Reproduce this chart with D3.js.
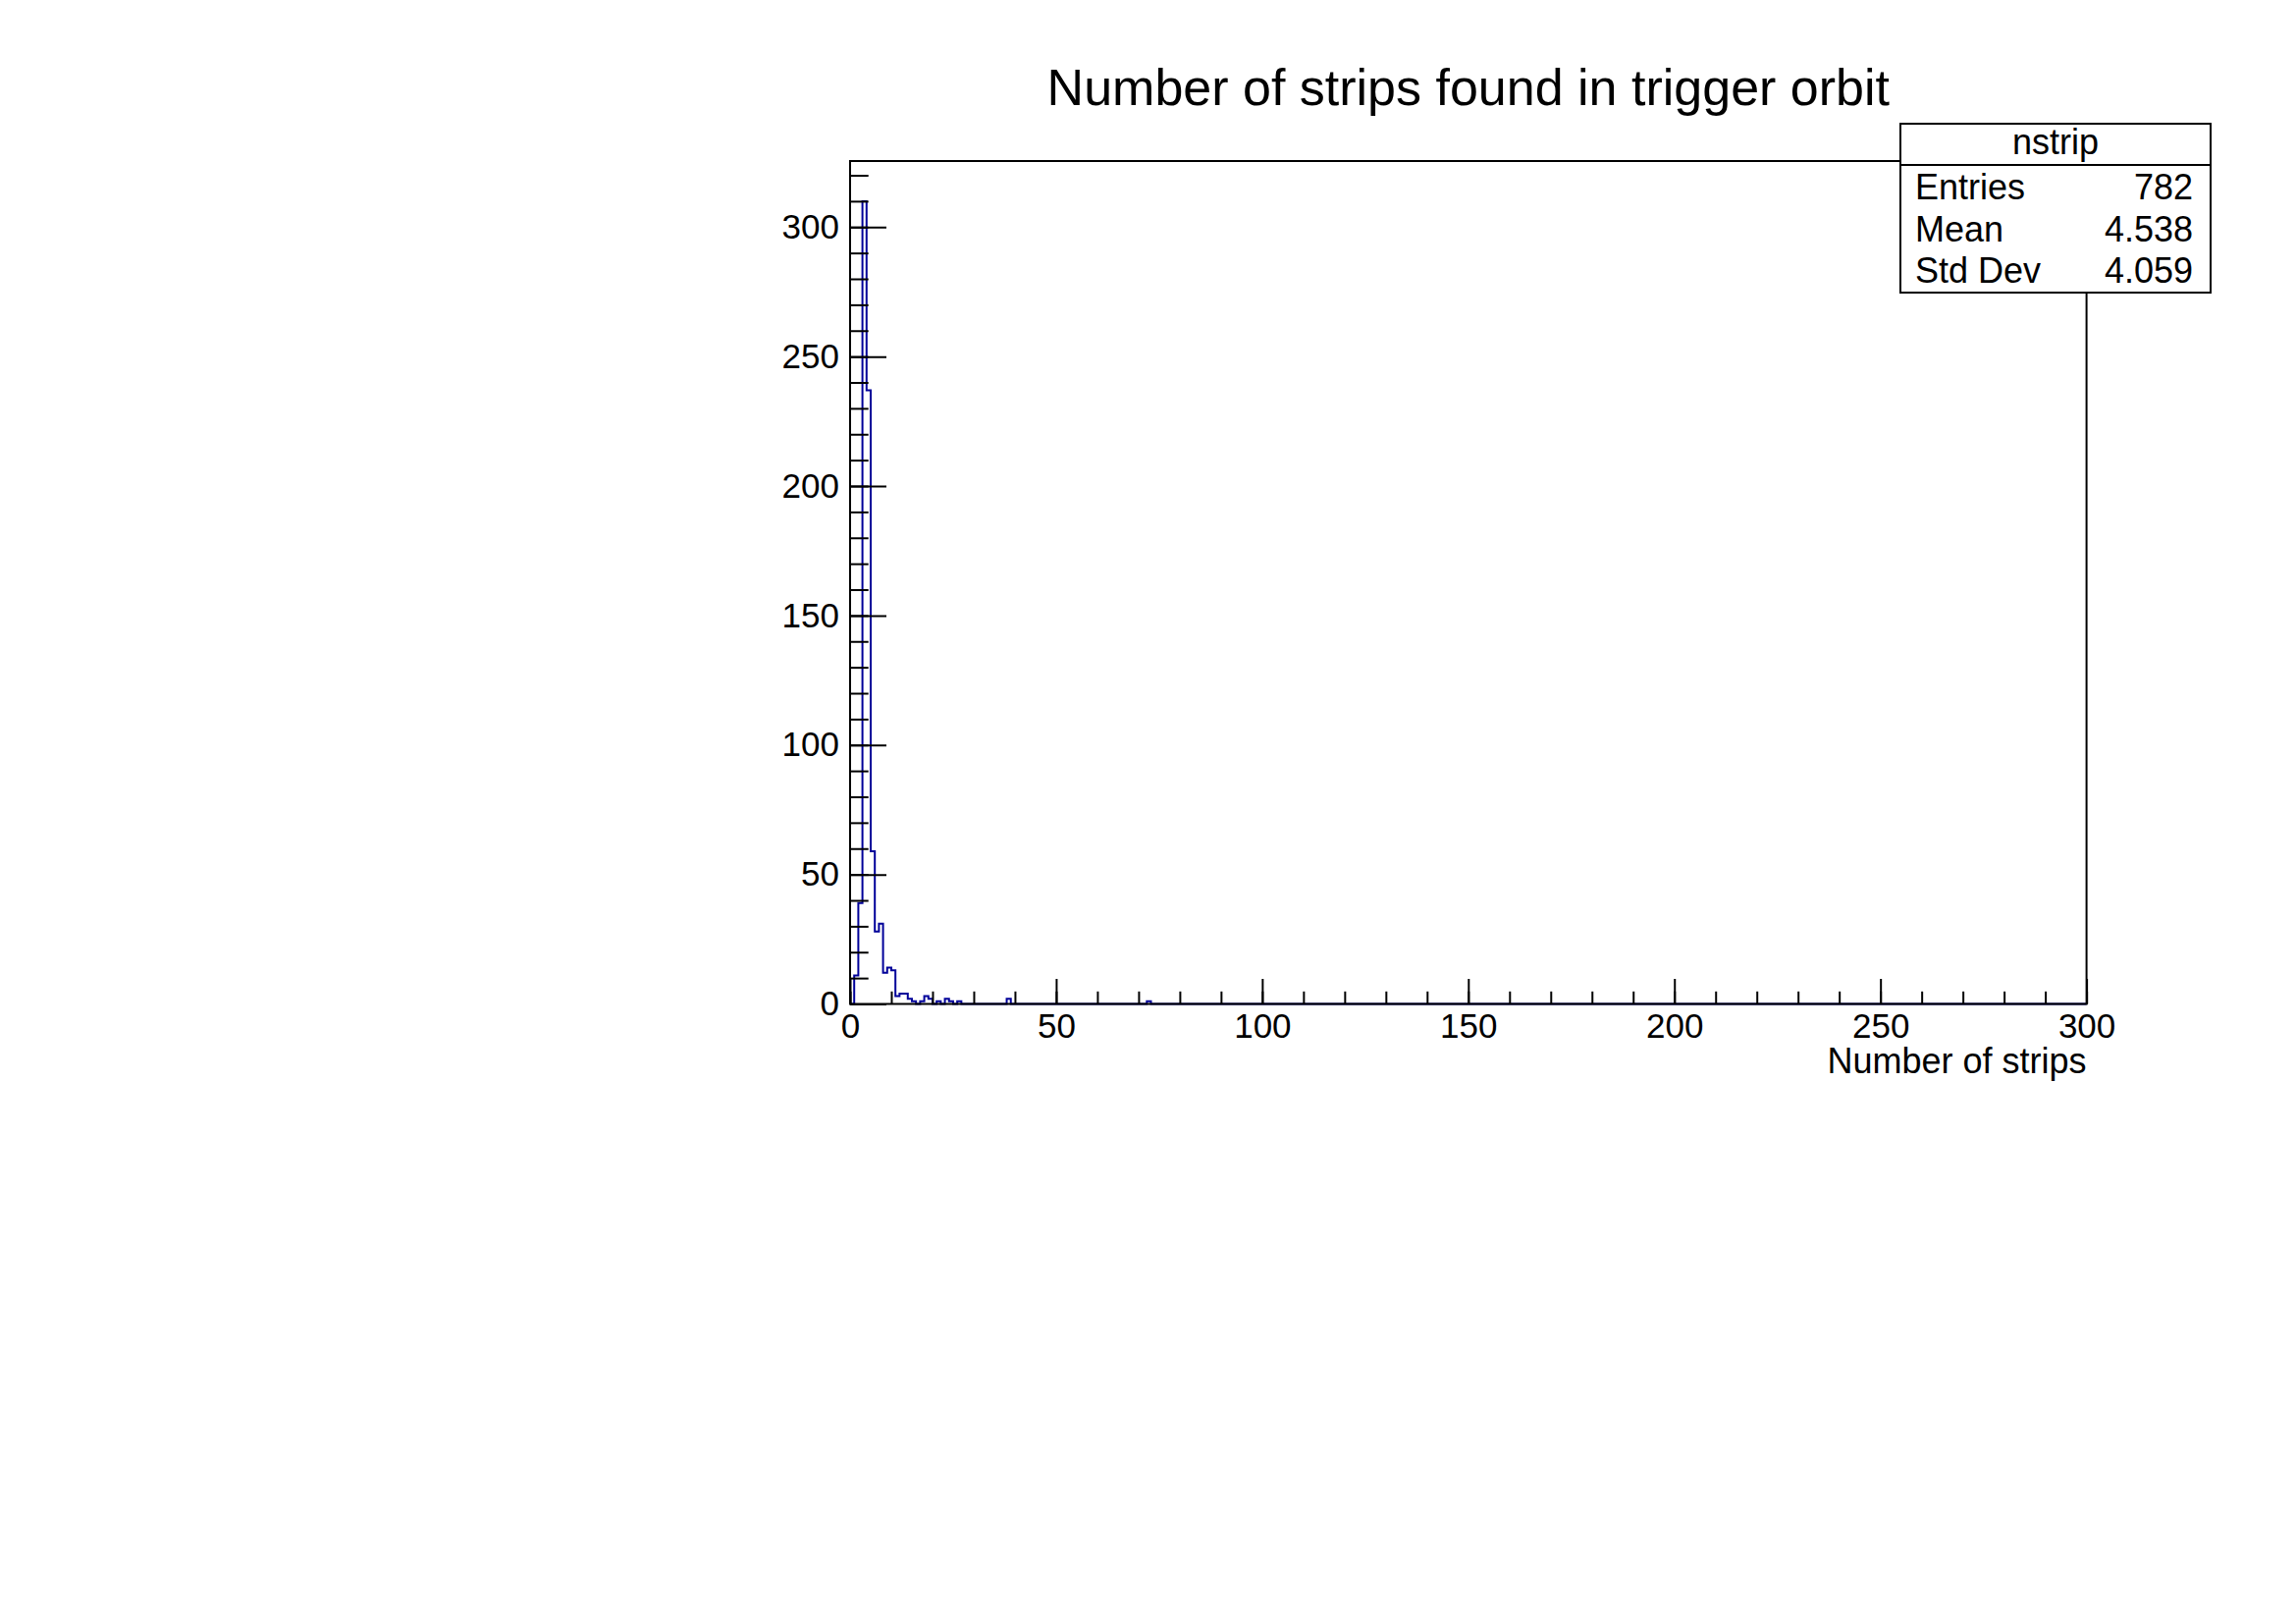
<!DOCTYPE html>
<html>
<head>
<meta charset="utf-8">
<script src="https://cdn.jsdelivr.net/npm/d3@7"></script>
<style>
  html, body { margin: 0; padding: 0; background: #ffffff; }
  svg { display: block; }
  text { font-family: "Liberation Sans", Arial, Helvetica, sans-serif; fill: #000; }
</style>
</head>
<body>
<script>
// ---------------- data ----------------
const histName = "nstrip";
const chartTitle = "Number of strips found in trigger orbit";
const xAxisTitle = "Number of strips";
const nBins = 300, xMin = 0, xMax = 300;
// non-empty bins (lower edge of bin) and their counts
const filledBins = [1, 2, 3, 4, 5, 6, 7, 8, 9, 10, 11, 12, 13, 14, 15, 17, 18, 19, 21, 23, 24, 26, 38, 72];
const binCounts  = [11, 39, 310, 237, 59, 28, 31, 12, 14, 13, 3, 4, 4, 2, 1, 1, 3, 2, 1, 2, 1, 1, 2, 1];
const xMajorTicks = [0, 50, 100, 150, 200, 250, 300];
const xMinorTicks = d3.range(0, 301, 10);
const yMajorTicks = [0, 50, 100, 150, 200, 250, 300];
const yMinorTicks = d3.range(0, 321, 10);
const statsLabels = ["Entries", "Mean", "Std Dev"];
const statsValues = ["782", "4.538", "4.059"];

// ---------------- layout ----------------
const W = 2339, H = 1653;
const frame = { left: 866, right: 2125.6, top: 164, bottom: 1022.5 };
const lineColor = "#000099";

const counts = new Array(nBins).fill(0);
filledBins.forEach((b, i) => { counts[b] = binCounts[i]; });
const yMax = 1.05 * d3.max(counts);

const svg = d3.select("body").append("svg").attr("width", W).attr("height", H);
svg.append("rect").attr("width", W).attr("height", H).attr("fill", "#fff");

const x = d3.scaleLinear().domain([xMin, xMax]).range([frame.left, frame.right]);
const y = d3.scaleLinear().domain([0, yMax]).range([frame.bottom, frame.top]);
const binW = (xMax - xMin) / nBins;

// ---------------- histogram outline ----------------
const pts = [[x(xMin), y(0)]];
counts.forEach((c, i) => {
  const x0 = xMin + i * binW, x1 = x0 + binW;
  pts.push([x(x0), y(c)]);
  pts.push([x(x1), y(c)]);
});
pts.push([x(xMax), y(0)]);
svg.append("path")
  .attr("d", d3.line()(pts))
  .attr("fill", "none")
  .attr("stroke", lineColor)
  .attr("stroke-width", 2);

// ---------------- axes ----------------
const fontTick = 35;
function styleAxis(g) {
  g.select(".domain").remove();
  g.selectAll(".tick line").attr("stroke", "#000").attr("stroke-width", 2);
  g.selectAll(".tick text").attr("font-size", fontTick).attr("fill", "#000")
    .attr("font-family", '"Liberation Sans", Arial, sans-serif');
}
// y minor
svg.append("g").attr("transform", `translate(${frame.left},0)`)
  .call(d3.axisLeft(y).tickValues(yMinorTicks).tickSize(-18.7).tickFormat(""))
  .call(styleAxis);
// y major
svg.append("g").attr("transform", `translate(${frame.left},0)`)
  .call(d3.axisLeft(y).tickValues(yMajorTicks).tickSize(-37).tickPadding(11).tickFormat(d3.format("d")))
  .call(styleAxis);
// x minor
svg.append("g").attr("transform", `translate(0,${frame.bottom})`)
  .call(d3.axisBottom(x).tickValues(xMinorTicks).tickSize(-12.7).tickFormat(""))
  .call(styleAxis);
// x major
svg.append("g").attr("transform", `translate(0,${frame.bottom})`)
  .call(d3.axisBottom(x).tickValues(xMajorTicks).tickSize(-25.5).tickPadding(10).tickFormat(d3.format("d")))
  .call(styleAxis);

// frame
svg.append("rect")
  .attr("x", frame.left).attr("y", frame.top)
  .attr("width", frame.right - frame.left).attr("height", frame.bottom - frame.top)
  .attr("fill", "none").attr("stroke", "#000").attr("stroke-width", 2);

// axis title
svg.append("text")
  .attr("x", frame.right).attr("y", 1093)
  .attr("text-anchor", "end").attr("font-size", 36)
  .text(xAxisTitle);

// chart title
svg.append("text")
  .attr("x", (frame.left + frame.right) / 2).attr("y", 107)
  .attr("text-anchor", "middle").attr("font-size", 52)
  .text(chartTitle);

// ---------------- stats box ----------------
const box = { x0: 1936, x1: 2252, y0: 126, y1: 298, yh: 168 };
const fontStats = 36;
svg.append("rect")
  .attr("x", box.x0).attr("y", box.y0)
  .attr("width", box.x1 - box.x0).attr("height", box.y1 - box.y0)
  .attr("fill", "#fff").attr("stroke", "#000").attr("stroke-width", 2);
svg.append("line")
  .attr("x1", box.x0).attr("x2", box.x1).attr("y1", box.yh).attr("y2", box.yh)
  .attr("stroke", "#000").attr("stroke-width", 2);
svg.append("text")
  .attr("x", (box.x0 + box.x1) / 2).attr("y", 157)
  .attr("text-anchor", "middle").attr("font-size", fontStats)
  .text(histName);
const rowBase = [203, 245.5, 288];
statsLabels.forEach((lab, i) => {
  svg.append("text").attr("x", 1951).attr("y", rowBase[i])
    .attr("font-size", fontStats).text(lab);
  svg.append("text").attr("x", 2234).attr("y", rowBase[i])
    .attr("text-anchor", "end").attr("font-size", fontStats).text(statsValues[i]);
});
</script>
</body>
</html>
